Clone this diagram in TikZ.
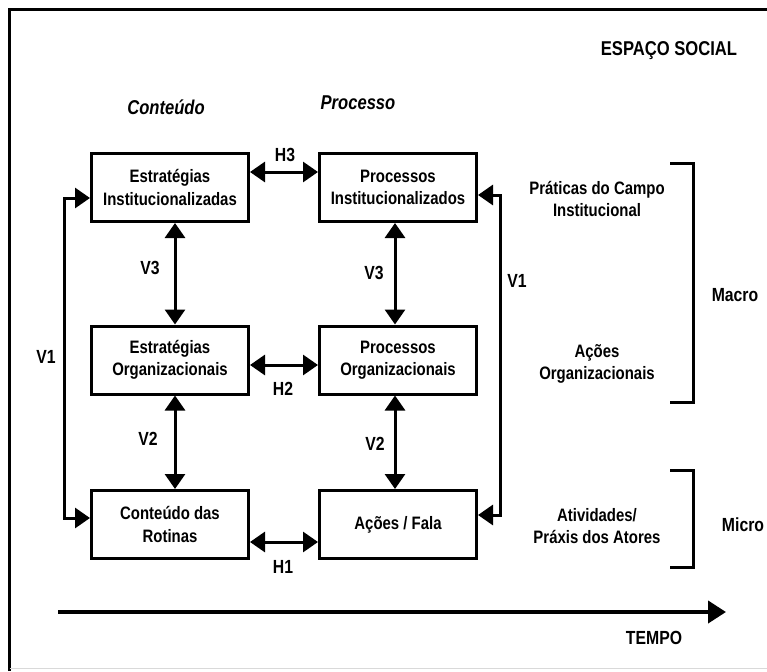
\documentclass[tikz,border=0pt]{standalone}
\usepackage{fontspec}
\setmainfont{Liberation Sans}[FakeStretch=0.83]
\usetikzlibrary{arrows.meta}
\begin{document}
\begin{tikzpicture}[x=1pt,y=-1pt,
  every node/.style={font=\bfseries\fontsize{18}{22.5}\selectfont, align=center, inner sep=0pt},
  box/.style={draw, line width=3pt, minimum width=157pt, minimum height=68pt},
  lbl/.style={font=\bfseries\fontsize{19}{22}\selectfont},
  head/.style={font=\bfseries\fontsize{20}{24}\selectfont},
  conn/.style={line width=3pt, {Triangle[length=15pt,width=20pt]}-{Triangle[length=15pt,width=20pt]}},
  brk/.style={line width=3pt},
  frame/.style={line width=3pt}
]
\useasboundingbox (0,0) rectangle (767,671);
% frame
\draw[frame] (9.5,671) -- (9.5,9.5) -- (767,9.5);
\draw[line width=1pt, black!15] (9.5,668) -- (767,668);

% headers
\node[head] (esp) at (669,51) {ESPAÇO SOCIAL};
\node[head] (cont) at (166,107) {\itshape Conteúdo};
\node[head] (proc) at (358,103) {\itshape Processo};

% boxes
\node[box] (b1) at (170,187.5) {Estratégias\\Institucionalizadas};
\node[box] (b2) at (398,187.5) {Processos\\Institucionalizados};
\node[box] (b3) at (170,360) {Estratégias\\Organizacionais};
\node[box] (b4) at (398,360) {Processos\\Organizacionais};
\node[box] (b5) at (170,524.5) {Conteúdo das\\Rotinas};
\node[box] (b6) at (398,524.5) {Ações / Fala};

% horizontal connectors
\draw[conn] ([yshift=15.5pt]b1.east) -- ([yshift=15.5pt]b2.west);
\draw[conn] ([yshift=-5pt]b3.east) -- ([yshift=-5pt]b4.west);
\draw[conn] ([yshift=-17.5pt]b5.east) -- ([yshift=-17.5pt]b6.west);
\node[lbl] (h3) at (285,155) {H3};
\node[lbl] (h2) at (283,389) {H2};
\node[lbl] (h1) at (283,567) {H1};

% vertical connectors
\draw[conn] ([xshift=5pt]b1.south) -- ([xshift=5pt]b3.north);
\draw[conn] ([xshift=5pt]b3.south) -- ([xshift=5pt]b5.north);
\draw[conn] ([xshift=-3pt]b2.south) -- ([xshift=-3pt]b4.north);
\draw[conn] ([xshift=-3pt]b4.south) -- ([xshift=-3pt]b6.north);
\node[lbl] (v3l) at (150,268) {V3};
\node[lbl] (v2l) at (148,439) {V2};
\node[lbl] (v3r) at (374,273) {V3};
\node[lbl] (v2r) at (375,444) {V2};

% V1 loops
\coordinate (l1) at ([yshift=-10.5pt]b1.west);
\coordinate (l2) at ([yshift=6.5pt]b5.west);
\draw[conn] (l1) -- (l1 -| 64,0) -- (l2 -| 64,0) -- (l2);
\coordinate (r1) at ([yshift=-7.5pt]b2.east);
\coordinate (r2) at ([yshift=9.5pt]b6.east);
\draw[conn] (r1) -- (r1 -| 500,0) -- (r2 -| 500,0) -- (r2);
\node[lbl] (v1l) at (46,357) {V1};
\node[lbl] (v1r) at (517,281) {V1};

% right side texts
\node (pc) at (597,199) {Práticas do Campo\\Institucional};
\node (ao) at (597,364) {Ações\\Organizacionais};
\node (ap) at (597,526) {Atividades/\\Práxis dos Atores};
\draw[brk] (670,163) -- (693,163) -- (693,402) -- (670,402);
\draw[brk] (670,470) -- (693,470) -- (693,567) -- (670,567);
\node[lbl] (macro) at (735,295) {Macro};
\node[lbl] (micro) at (743,525) {Micro};

% time arrow
\coordinate (t0) at (58,612);
\coordinate (t1) at (726,612);
\draw[line width=4pt, -{Triangle[length=18pt,width=22pt]}] (t0) -- (t1);
\node[lbl] (tempo) at (654,638) {TEMPO};
\end{tikzpicture}
\end{document}
